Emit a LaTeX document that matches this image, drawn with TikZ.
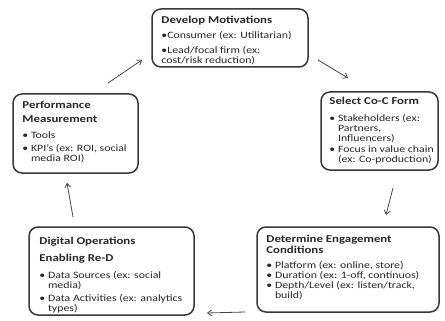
\documentclass[tikz,border=0pt]{standalone}
\usepackage{fontspec}
\setmainfont{Carlito}[FakeStretch=1.22]
\usepackage{calc}
\usepackage{tikz}
\usetikzlibrary{arrows.meta,calc}

\newcommand{\stagetitle}[1]{{\fontsize{10.5}{12}\selectfont\bfseries #1}}
\newcommand{\hangbullet}{\hspace*{\widthof{•\ }}}

\begin{document}
\begin{tikzpicture}[line cap=round,line join=round,x=1pt,y=-1pt,
  stagebox/.style={draw=black!78,line width=1.5pt,rounded corners=9pt,inner sep=0pt},
  stagetext/.style={anchor=north west,align=left,inner sep=0pt,
    font=\fontsize{9.7}{10}\selectfont,text=black!85},
  flow/.style={draw=black!72,line width=0.8pt,-{Straight Barb[length=4pt,width=6pt]}}]
\useasboundingbox (0,0) rectangle (445,321);
% boxes
\node[stagebox,minimum width=156pt,minimum height=58pt] (dev) at (230,38) {};
\node[stagebox,minimum width=117pt,minimum height=78pt] (sel) at (379.5,131) {};
\node[stagebox,minimum width=182pt,minimum height=85pt] (det) at (348,269.5) {};
\node[stagebox,minimum width=165pt,minimum height=88pt] (dig) at (111.5,271) {};
\node[stagebox,minimum width=125pt,minimum height=79pt] (perf) at (75.5,133.5) {};
% texts
\node[stagetext] (devtext) at ($(dev.north west)+(10,7.5)$)
  {\stagetitle{Develop Motivations}\\[5pt]
   •Consumer (ex: Utilitarian)\\[5pt]
   •Lead/focal firm (ex:\\
   cost/risk reduction)};
\node[stagetext] (seltext) at ($(sel.north west)+(9,5.5)$)
  {\stagetitle{Select Co-C Form}\\[7pt]
   • Stakeholders (ex:\\
   \hangbullet Partners,\\
   \hangbullet Influencers)\\[1pt]
   • Focus in value chain\\
   \hangbullet (ex: Co-production)};
\node[stagetext] (dettext) at ($(det.north west)+(10,8.5)$)
  {\stagetitle{Determine Engagement}\\[1pt]
   \stagetitle{Conditions}\\[5pt]
   • Platform (ex: online, store)\\
   • Duration (ex: 1-off, continuos)\\
   • Depth/Level (ex: listen/track,\\
   \hangbullet build)};
\node[stagetext] (digtext) at ($(dig.north west)+(11,10.5)$)
  {\stagetitle{Digital Operations}\\[7pt]
   \stagetitle{Enabling Re-D}\\[7pt]
   • Data Sources (ex: social\\
   \hangbullet media)\\[3pt]
   • Data Activities (ex: analytics\\
   \hangbullet types)};
\node[stagetext] (perftext) at ($(perf.north west)+(10,7.5)$)
  {\stagetitle{Performance}\\[4pt]
   \stagetitle{Measurement}\\[6pt]
   • Tools\\[3pt]
   • KPI's (ex: ROI, social\\
   \hangbullet media ROI)};
% arrow ends
\coordinate (pd1) at (108,83);  \coordinate (pd2) at (142,60);
\coordinate (ds1) at (318,60);  \coordinate (ds2) at (348,78);
\coordinate (sd1) at (393,188); \coordinate (sd2) at (386,215);
\coordinate (dd1) at (245,312); \coordinate (dd2) at (207,313);
\coordinate (dp1) at (73,217);  \coordinate (dp2) at (67,183);
\draw[flow] (pd1) -- (pd2);
\draw[flow] (ds1) -- (ds2);
\draw[flow] (sd1) -- (sd2);
\draw[flow] (dd1) -- (dd2);
\draw[flow] (dp1) -- (dp2);
\end{tikzpicture}
\end{document}
